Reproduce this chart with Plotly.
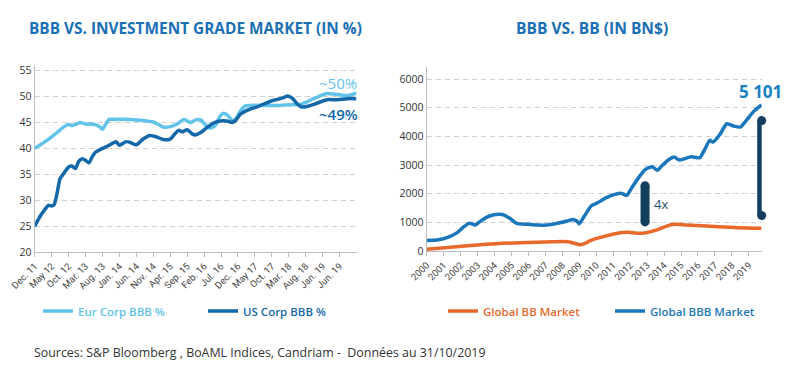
import plotly.graph_objects as go

# ---------------- Left chart data (months since Dec 2011) ----------------
left_tick_labels = ["Dec. 11", "May 12", "Oct. 12", "Mar. 13", "Aug. 13", "Jan. 14", "Jun. 14",
                    "Nov. 14", "Apr. 15", "Sep. 15", "Feb. 16", "Jul. 16", "Dec. 16", "May 17",
                    "Oct. 17", "Mar. 18", "Aug. 18", "Jan. 19", "Jun. 19"]
left_tick_months = [0, 5, 10, 15, 20, 25, 30, 35, 40, 45, 50, 55, 60, 65, 70, 75, 80, 85, 90]

eur_months = [0, 3.5, 6.5, 8.5, 10, 11, 12, 13.4, 15, 16.4, 18.3, 19.3, 20, 21, 22, 24, 28, 32, 35,
              36.6, 38, 40, 42, 44, 45, 46, 47.5, 49, 50.3, 51.8, 53.3, 54.8, 55.8, 56.9, 58.2, 59.2,
              60.7, 62.2, 63.6, 67, 72, 76, 78.4, 80.4, 82.4, 84.4, 86.3, 88.3, 90.3, 92.2, 93.7, 95]
eur_vals = [40.0, 41.5, 43.0, 44.1, 44.6, 44.4, 44.6, 45.0, 44.7, 44.7, 44.5, 44.1, 43.7, 44.7, 45.6,
            45.6, 45.6, 45.4, 45.1, 44.6, 44.1, 44.2, 44.7, 45.6, 45.3, 45.0, 45.5, 45.5, 44.6, 43.9,
            44.4, 46.3, 46.8, 46.4, 45.5, 45.6, 47.2, 48.2, 48.3, 48.3, 48.3, 48.4, 48.5, 49.0, 49.6,
            50.2, 50.6, 50.5, 50.3, 50.2, 50.4, 50.7]

us_months = [0, 1.6, 3, 4, 5, 5.7, 6.5, 7.5, 8.5, 10, 11, 12, 13, 14, 15, 16, 17, 18, 20, 22, 24, 25,
             27, 28, 30, 32, 34, 36, 38, 40, 41, 42.5, 43.5, 45, 46.5, 47.4, 48.9, 50.8, 52.8, 54.8,
             56.7, 58.2, 59.2, 60.7, 62.2, 63.6, 65.6, 68.1, 70.5, 72.5, 73.5, 74.7, 76, 77.5, 78.9,
             80.4, 82.4, 84.4, 86.3, 89.3, 92.2, 95]
us_vals = [25.0, 26.9, 28.2, 29.0, 28.9, 29.1, 31.0, 34.2, 35.1, 36.4, 36.6, 36.1, 37.5, 38.0, 37.7,
           37.2, 38.4, 39.3, 40.0, 40.6, 41.3, 40.6, 41.3, 41.2, 40.7, 41.8, 42.5, 42.2, 41.7, 41.8,
           42.5, 43.5, 43.2, 43.6, 42.8, 42.6, 43.0, 44.0, 44.9, 45.3, 45.3, 45.0, 45.3, 46.6, 47.2,
           47.6, 48.0, 48.7, 49.3, 49.6, 49.8, 50.1, 49.7, 48.6, 48.0, 48.1, 48.5, 49.0, 49.4, 49.4,
           49.6, 49.6]

# ---------------- Right chart data (years) ----------------
year_ticks = list(range(2000, 2020))

bbb_years = [2000.0, 2000.6, 2001.2, 2001.8, 2002.2, 2002.5, 2002.65, 2002.85, 2003.1, 2003.5, 2003.9,
             2004.3, 2004.6, 2004.9, 2005.3, 2005.9, 2006.5, 2007.1, 2007.7, 2008.3, 2008.6, 2008.85,
             2009.0, 2009.3, 2009.7, 2010.1, 2010.6, 2011.1, 2011.5, 2011.8, 2012.1, 2012.5, 2012.9,
             2013.3, 2013.6, 2013.9, 2014.25, 2014.6, 2014.9, 2015.2, 2015.6, 2016.1, 2016.4, 2016.7,
             2016.9, 2017.3, 2017.7, 2018.1, 2018.5, 2018.9, 2019.3, 2019.75]
bbb_vals = [370, 385, 465, 640, 850, 965, 950, 905, 1010, 1165, 1255, 1280, 1245, 1140, 965, 930, 905,
            905, 965, 1045, 1100, 1045, 950, 1220, 1570, 1690, 1860, 1975, 2010, 1940, 2210, 2560,
            2850, 2940, 2815, 2990, 3175, 3280, 3175, 3220, 3290, 3255, 3545, 3860, 3800, 4070, 4440,
            4360, 4325, 4590, 4880, 5101]

bb_years = [2000, 2001.6, 2003.5, 2005.5, 2007.5, 2008.3, 2008.65, 2009.05, 2009.35, 2009.6, 2010.2,
            2010.8, 2011.4, 2011.9, 2012.5, 2012.95, 2013.6, 2014.15, 2014.6, 2015.3, 2016.5, 2017.9,
            2018.9, 2019.75]
bb_vals = [60, 140, 235, 290, 325, 325, 280, 220, 265, 350, 465, 560, 640, 650, 615, 640, 735, 870,
           930, 910, 870, 830, 800, 790]

# multiplier bars (year position, low end, high end)
mult_x = [2012.88, 2019.76]
mult_low = [1015, 1237]
mult_high = [2275, 4551]

# ---------------- Styles ----------------
C_EUR = "#62C3EA"
C_US = "#1368AA"
C_BB = "#E8692C"
C_BBB = "#1B77BB"
C_BAR = "#123F5F"
C_TITLE = "#1B6FB5"
FONT = "Open Sans"
BAR_PX = 9
BAR_W_YEARS = BAR_PX / 16.95

fig = go.Figure()

fig.add_trace(go.Scatter(x=eur_months, y=eur_vals, mode="lines", name="Eur Corp BBB %",
                         line=dict(color=C_EUR, width=3.5, shape="spline", smoothing=0.6),
                         xaxis="x", yaxis="y", legend="legend"))
fig.add_trace(go.Scatter(x=us_months, y=us_vals, mode="lines", name="US Corp BBB %",
                         line=dict(color=C_US, width=3.5, shape="spline", smoothing=0.6),
                         xaxis="x", yaxis="y", legend="legend2"))
fig.add_trace(go.Scatter(x=bb_years, y=bb_vals, mode="lines", name="Global BB Market",
                         line=dict(color=C_BB, width=3.5, shape="spline", smoothing=0.6),
                         xaxis="x2", yaxis="y2", legend="legend3", cliponaxis=False))
fig.add_trace(go.Scatter(x=bbb_years, y=bbb_vals, mode="lines", name="Global BBB Market",
                         line=dict(color=C_BBB, width=3.5, shape="spline", smoothing=0.6),
                         xaxis="x2", yaxis="y2", legend="legend4", cliponaxis=False))

# multiplier bars: bar bodies + round caps
fig.add_trace(go.Bar(x=mult_x, base=mult_low, y=[h - l for h, l in zip(mult_high, mult_low)],
                     width=[BAR_W_YEARS] * len(mult_x), marker=dict(color=C_BAR, line=dict(width=0)),
                     showlegend=False, xaxis="x2", yaxis="y2", cliponaxis=False, hoverinfo="skip"))
fig.add_trace(go.Scatter(x=mult_x + mult_x, y=mult_low + mult_high, mode="markers", showlegend=False,
                         marker=dict(color=C_BAR, size=BAR_PX, line=dict(width=0)),
                         xaxis="x2", yaxis="y2", cliponaxis=False, hoverinfo="skip"))

W, H = 800, 376
def px(x):
    return x / W
def py(y):
    return 1 - y / H

x_tickfont = dict(family="Liberation Sans Narrow, Roboto", size=9.5, color="#444444")
y_tickfont = dict(family=FONT, size=10.5, color="#333333")

def xaxis_style(**kw):
    d = dict(showline=True, linecolor="#BDBDBD", linewidth=1, ticks="outside",
             tickcolor="#BDBDBD", ticklen=4, zeroline=False, showgrid=False,
             tickangle=-45, automargin=False, tickfont=x_tickfont)
    d.update(kw)
    return d

def yaxis_style(**kw):
    d = dict(showgrid=True, gridcolor="#D0D0D0", griddash="5px,4px", gridwidth=1,
             showline=True, linecolor="#BDBDBD", linewidth=1, ticks="", zeroline=False,
             automargin=False, tickfont=y_tickfont)
    d.update(kw)
    return d

fig.update_layout(
    width=W, height=H, margin=dict(l=0, r=0, t=0, b=0, autoexpand=False),
    paper_bgcolor="white", plot_bgcolor="white",
    font=dict(family=FONT, color="#333333"),
    hovermode=False, barmode="overlay",
    xaxis=xaxis_style(domain=[px(34.7), px(356.5)], range=[0, 95], anchor="y",
                      tickvals=left_tick_months, ticktext=left_tick_labels),
    yaxis=yaxis_style(domain=[py(252), py(65.5)], range=[20, 56], anchor="x",
                      tickvals=[20, 25, 30, 35, 40, 45, 50, 55]),
    xaxis2=xaxis_style(domain=[px(426.7), px(761.7)], range=[2000, 2019.76], anchor="y2",
                       tickvals=year_ticks, ticktext=[str(y) for y in year_ticks]),
    yaxis2=yaxis_style(domain=[py(251), py(66.7)], range=[0, 6430], anchor="x2",
                       tickvals=[0, 1000, 2000, 3000, 4000, 5000, 6000]),
    showlegend=True,
)

leg_common = dict(orientation="h", xanchor="left", yanchor="middle", bgcolor="rgba(0,0,0,0)",
                  borderwidth=0, itemwidth=30, traceorder="normal")
legend_specs = [("legend", 38, C_EUR), ("legend2", 203, C_US), ("legend3", 443, C_BB),
                ("legend4", 610, C_BBB)]
for name, x0, col in legend_specs:
    fig.update_layout(**{name: dict(x=px(x0), y=py(311),
                                    font=dict(family=FONT, size=11.5, color=col, weight=600),
                                    **leg_common)})

ann = []
ann.append(dict(text="BBB VS. INVESTMENT GRADE MARKET (IN %)", xref="paper", yref="paper",
                x=px(195), y=py(28), xanchor="center", yanchor="middle", showarrow=False,
                font=dict(family=FONT, size=15.4, color=C_TITLE, weight=700)))
ann.append(dict(text="BBB VS. BB (IN BN$)", xref="paper", yref="paper",
                x=px(592), y=py(28), xanchor="center", yanchor="middle", showarrow=False,
                font=dict(family=FONT, size=15.6, color=C_TITLE, weight=700)))
ann.append(dict(text="Sources: S&P Bloomberg , BoAML Indices, Candriam -  Données au 31/10/2019",
                xref="paper", yref="paper", x=px(32), y=py(352), xanchor="left", yanchor="middle",
                showarrow=False, font=dict(family=FONT, size=12.4, color="#333333")))
ann.append(dict(text="~50%", xref="x", yref="y", x=89.6, y=52.6, xanchor="center", yanchor="middle",
                showarrow=False, font=dict(family=FONT, size=15, color=C_EUR)))
ann.append(dict(text="~49%", xref="x", yref="y", x=89.6, y=46.56, xanchor="center", yanchor="middle",
                showarrow=False, font=dict(family=FONT, size=15, color=C_US, weight=600)))
ann.append(dict(text="5 101", xref="x2", yref="y2", x=2019.66, y=5580, xanchor="center",
                yanchor="middle", showarrow=False, font=dict(family=FONT, size=17, color="#1B80C4", weight=700)))
ann.append(dict(text="4x", xref="x2", yref="y2", x=2013.8, y=1630, xanchor="center", yanchor="middle",
                showarrow=False, font=dict(family=FONT, size=13, color="#1F4E6E")))
ann.append(dict(text="6x", xref="x2", yref="y2", x=2020.67, y=3035, xanchor="center", yanchor="middle",
                showarrow=False, font=dict(family=FONT, size=13, color="#1F4E6E")))
fig.update_layout(annotations=ann)

fig.write_html("out.html", config={"displayModeBar": False},
               post_script="document.body.style.margin='0px';document.body.style.padding='0px';")
